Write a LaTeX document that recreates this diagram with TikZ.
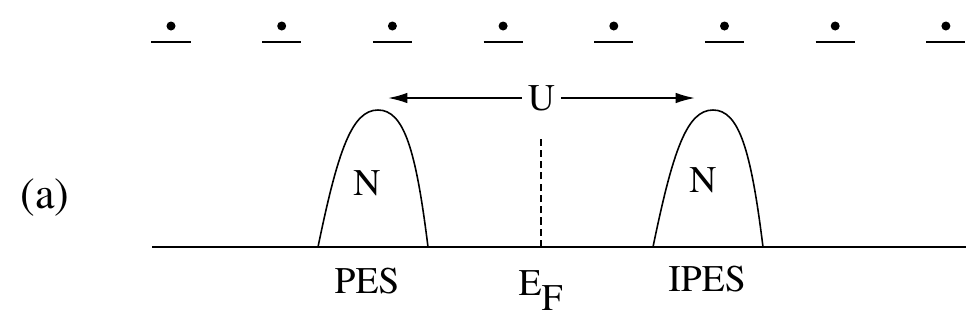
\documentclass[tikz,border=0pt]{standalone}
\usepackage[T1]{fontenc}
\usepackage{times}
\usetikzlibrary{arrows.meta,positioning}
\tikzset{
  lbl/.style={font=\fontsize{10.7}{13}\selectfont,inner sep=1pt},
  level/.style={line width=0.6pt},
  band/.style={line width=0.45pt}
}
\begin{document}
\begin{tikzpicture}[x=0.01cm,y=-0.01cm]
        \useasboundingbox (0,0) rectangle (966,323);
        % filled levels on top
        \foreach \i in {0,...,7} {
          \coordinate (lev\i) at (171+110.7*\i,42);
          \draw[level] ([xshift=-0.195cm]lev\i) -- ([xshift=0.195cm]lev\i);
          \fill ([yshift=0.16cm]lev\i) circle[radius=0.045cm];
        }
        % energy axis
        \coordinate (axl) at (152,247);
        \coordinate (axr) at (966,247);
        \draw[level] (axl) -- (axr);
        % the two peaks
        \foreach \s in {0,335} {
          \draw[band] (318+\s,247) .. controls (338+\s,150) and (352+\s,110) .. (378+\s,110)
                .. controls (404+\s,110) and (416+\s,150) .. (428+\s,247);
        }
        \coordinate (fermi) at (541,247);
        \draw[dashed,line width=0.5pt,dash pattern=on 2pt off 1.2pt] (fermi) -- ++(0,-112);
        \coordinate (ua) at (388,98);
        \coordinate (ub) at (695,98);
        \draw[line width=0.5pt,{Latex[length=5.5pt,width=3pt]}-{Latex[length=5.5pt,width=3pt]}] (ua) -- (ub)
              node[midway,fill=white,lbl,inner sep=1.7pt] (u) {U};
        \node[lbl] (nl) at (367,183) {N};
        \node[lbl] (nr) at (703,180) {N};
        \node[lbl] (pes) at (367,281) {PES};
        \node[lbl] (ipes) at (707,279) {IPES};
        \node[lbl,anchor=base west,inner sep=0pt] (ef) at (518,295) {E\raisebox{-4.3pt}{F}};
        \node[font=\fontsize{12.5}{15}\selectfont] (panel) at (45,198) {(a)};
    \end{tikzpicture}
\end{document}
